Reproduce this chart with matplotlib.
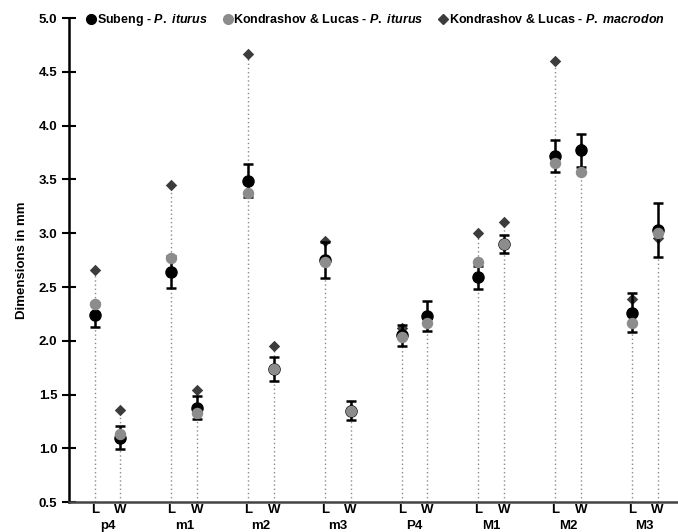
import matplotlib.pyplot as plt
from matplotlib.lines import Line2D
import numpy as np

plt.rcParams['font.family'] = 'Liberation Sans'
plt.rcParams['font.weight'] = 'bold'
plt.rcParams['mathtext.fontset'] = 'custom'
plt.rcParams['mathtext.it'] = 'Liberation Sans:italic:bold'
plt.rcParams['mathtext.rm'] = 'Liberation Sans:bold'

teeth = ["p4", "m1", "m2", "m3", "P4", "M1", "M2", "M3"]
mesures = ["L", "W"]

# ordre : p4 L, p4 W, m1 L, m1 W, ...
subeng = [2.24, 1.10, 2.64, 1.38, 3.49, 1.74, 2.75, 1.35,
          2.05, 2.23, 2.59, 2.90, 3.72, 3.77, 2.26, 3.03]
subeng_err = [0.11, 0.11, 0.15, 0.11, 0.15, 0.11, 0.17, 0.09,
              0.10, 0.14, 0.11, 0.08, 0.15, 0.15, 0.18, 0.25]
kl_iturus = [2.34, 1.13, 2.77, 1.33, 3.37, 1.74, 2.73, 1.35,
             2.04, 2.17, 2.73, 2.90, 3.65, 3.57, 2.17, 3.00]
kl_macrodon = [2.66, 1.36, 3.45, 1.54, 4.67, 1.95, 2.93, 1.37,
               2.12, 2.22, 3.00, 3.10, 4.60, 3.79, 2.39, 2.96]

noms = [r"Subeng - $\mathit{P.\ iturus}$",
        r"Kondrashov & Lucas - $\mathit{P.\ iturus}$",
        r"Kondrashov & Lucas - $\mathit{P.\ macrodon}$"]

x = np.array([3 * i + j + 1 for i in range(len(teeth)) for j in range(2)])

fig = plt.figure(figsize=(6.78, 5.32), dpi=100)
ax = fig.add_axes([0.102, 0.056, 0.898, 0.91])

hauts = np.maximum(np.array(kl_macrodon), np.array(subeng) + np.array(subeng_err))
ax.vlines(x, 0.5, hauts, colors="#8a8a8a", linestyles=(0, (1, 2)), linewidth=1, zorder=1)

ax.scatter(x, kl_macrodon, s=34, marker="D", color="#3c3c3c", linewidths=0, zorder=2)
ax.errorbar(x, subeng, yerr=subeng_err, fmt="o", color="black", ms=8,
            elinewidth=1.8, capsize=3.6, capthick=1.8, zorder=3)
ax.scatter(x, kl_iturus, s=68, color="#8c8c8c", linewidths=0, zorder=4)

ax.set_xlim(0, 23.8)
ax.set_ylim(0.5, 5.0)
ax.set_yticks(np.arange(0.5, 5.01, 0.5))
ax.set_yticklabels([f"{v:.1f}" for v in np.arange(0.5, 5.01, 0.5)], fontsize=9.5, fontweight="bold")
ax.tick_params(axis="y", direction="inout", length=10, width=1.5)
ax.set_xticks(x)
ax.set_xticklabels(mesures * len(teeth), fontsize=9.5, fontweight="bold")
ax.tick_params(axis="x", length=0, pad=1)
for i, t in enumerate(teeth):
    ax.annotate(t, (3 * i + 1.5, 0), xycoords=ax.get_xaxis_transform(),
                xytext=(0, -17), textcoords="offset points",
                ha="center", va="center", fontsize=9.5, fontweight="bold")

ax.spines["top"].set_visible(False)
ax.spines["right"].set_visible(False)
ax.spines["left"].set_linewidth(1.8)
ax.spines["bottom"].set_linewidth(1.8)
ax.spines["bottom"].set_color("#444444")

ax.set_ylabel("Dimensions in mm", fontsize=9.5, fontweight="bold", labelpad=8)

poignees = [Line2D([], [], ls="", marker="o", ms=7, color="black"),
            Line2D([], [], ls="", marker="o", ms=7, color="#8c8c8c"),
            Line2D([], [], ls="", marker="D", ms=5.5, color="#3c3c3c")]
ax.legend(poignees, noms, loc="upper left", bbox_to_anchor=(0.005, 1.035), ncol=3,
          frameon=False, fontsize=9, handletextpad=-0.15, columnspacing=1.0, handlelength=1.2)

plt.savefig("out.png", dpi=100)
